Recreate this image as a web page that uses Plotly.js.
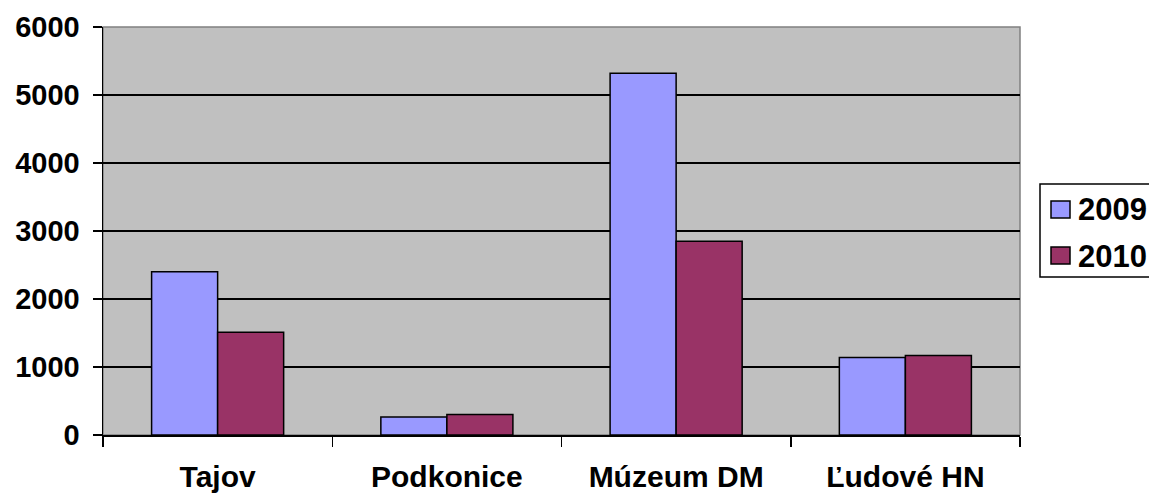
<!DOCTYPE html>
<html>
<head>
<meta charset="utf-8">
<script src="https://cdn.plot.ly/plotly-3.0.1.min.js"></script>
<style>html,body{margin:0;padding:0;background:#fff;}#chart{width:1149px;height:495px;}</style>
</head>
<body>
<div id="chart"></div>
<script>
const categories = ["Tajov", "Podkonice", "Múzeum DM", "Ľudové HN"];
const series2009 = [2400, 265, 5320, 1140];
const series2010 = [1510, 300, 2850, 1170];
const seriesNames = ["2009", "2010"];
const seriesColors = ["#9999FF", "#993366"];
const yTicks = [0, 1000, 2000, 3000, 4000, 5000, 6000];

const FAM = "Liberation Sans, Arial, sans-serif";
const yFont = {family: FAM, size: 29, color: "#000", weight: "bold"};
const xFont = {family: FAM, size: 30, color: "#000", weight: "bold"};
const legFont = {family: FAM, size: 31, color: "#000", weight: "bold"};

const M = {l: 103, r: 129, t: 27, b: 60};
const W = 1149, H = 495;
const PW = W - M.l - M.r, PH = H - M.t - M.b;
const px2x = p => (p - M.l) / PW;
const px2y = p => (H - M.b - p) / PH;

const traces = [
  {type: "bar", name: seriesNames[0], x: categories, y: series2009,
   marker: {color: seriesColors[0], line: {color: "#000", width: 1.5}}},
  {type: "bar", name: seriesNames[1], x: categories, y: series2010,
   marker: {color: seriesColors[1], line: {color: "#000", width: 1.5}}}
];

const shapes = [
  {type: "rect", xref: "paper", yref: "paper", x0: 0, x1: 1, y0: 0, y1: 1,
   line: {color: "#808080", width: 1.5}, layer: "below"},
  {type: "rect", xref: "paper", yref: "paper", x0: px2x(1040), x1: px2x(1165), y0: px2y(277), y1: px2y(184),
   line: {color: "#000", width: 1.5}, fillcolor: "#FFFFFF"}
];
const annotations = [];
const swatchTops = [201, 247];
seriesNames.forEach((n, i) => {
  const t = swatchTops[i];
  shapes.push({type: "rect", xref: "paper", yref: "paper",
    x0: px2x(1051), x1: px2x(1070), y0: px2y(t + 17), y1: px2y(t),
    line: {color: "#000", width: 1.5}, fillcolor: seriesColors[i]});
  annotations.push({xref: "paper", yref: "paper", x: px2x(1076), y: px2y(t + 9),
    xanchor: "left", yanchor: "middle", showarrow: false, text: n, font: legFont});
});

const layout = {
  width: W, height: H,
  margin: {l: M.l, r: M.r, t: M.t, b: M.b, pad: 0, autoexpand: false},
  paper_bgcolor: "#FFFFFF",
  plot_bgcolor: "#C0C0C0",
  barmode: "group",
  bargap: 0.424,
  bargroupgap: 0,
  showlegend: false,
  xaxis: {
    type: "category",
    showline: true, linecolor: "#000", linewidth: 1.5,
    ticks: "outside", ticklen: 10, tickcolor: "#000", tickwidth: 1.5,
    tickson: "boundaries",
    showgrid: false, zeroline: false,
    tickfont: xFont,
    ticklabelstandoff: 14
  },
  yaxis: {
    range: [0, 6000],
    tickvals: yTicks,
    showline: true, linecolor: "#000", linewidth: 1.5,
    ticks: "outside", ticklen: 9, tickcolor: "#000", tickwidth: 1.5,
    showgrid: true, gridcolor: "#000", gridwidth: 1.5,
    zeroline: false,
    tickfont: yFont,
    ticklabelstandoff: 7
  },
  shapes: shapes,
  annotations: annotations
};

Plotly.newPlot("chart", traces, layout, {displayModeBar: false, staticPlot: true});
</script>
</body>
</html>
